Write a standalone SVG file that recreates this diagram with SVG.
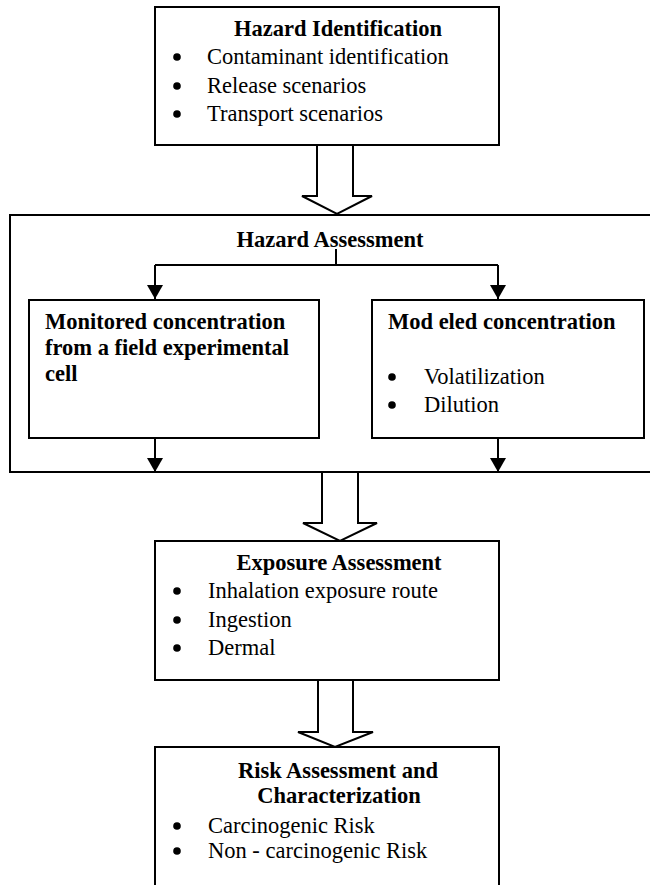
<svg xmlns="http://www.w3.org/2000/svg" width="650" height="885" viewBox="0 0 650 885">
<style>
.box{fill:#fff;stroke:#000;stroke-width:2}
.blk{fill:#fff;stroke:#000;stroke-width:2;stroke-linejoin:miter}
.ln{fill:none;stroke:#000;stroke-width:2}
.t{font-family:"Liberation Serif","Times New Roman",serif;font-size:22.5px;fill:#000}
.b{font-weight:bold}
.m{text-anchor:middle}
.dot{fill:#000}
</style>
<defs>
<marker id="ah" viewBox="0 0 14 16" refX="14" refY="8" markerWidth="14" markerHeight="16" markerUnits="userSpaceOnUse" orient="auto">
<path d="M0,0 L14,8 L0,16 Z" fill="#000"/>
</marker>
</defs>
<rect width="650" height="885" fill="#fff"/>

<g id="hazard-identification">
<rect class="box" x="155" y="7" width="344" height="138"/>
<text class="t b m" x="338" y="36">Hazard Identification</text>
<circle class="dot" cx="177" cy="57" r="3.8"/>
<text class="t" x="207" y="64">Contaminant identification</text>
<circle class="dot" cx="177" cy="86" r="3.8"/>
<text class="t" x="207" y="93">Release scenarios</text>
<circle class="dot" cx="177" cy="114" r="3.8"/>
<text class="t" x="207" y="121">Transport scenarios</text>
</g>

<g id="hazard-assessment">
<rect class="box" x="10" y="215" width="650" height="257"/>
<text class="t b m" x="330" y="247">Hazard Assessment</text>
</g>

<g id="monitored">
<rect class="box" x="29" y="300" width="290" height="138"/>
<text class="t b" x="45" y="329">Monitored concentration</text>
<text class="t b" x="45" y="355">from a field experimental</text>
<text class="t b" x="45" y="381">cell</text>
</g>

<g id="modeled">
<rect class="box" x="372" y="300" width="272" height="138"/>
<text class="t b" x="388" y="329">Mod eled concentration</text>
<circle class="dot" cx="392" cy="377" r="3.8"/>
<text class="t" x="424" y="384">Volatilization</text>
<circle class="dot" cx="392" cy="405" r="3.8"/>
<text class="t" x="424" y="412">Dilution</text>
</g>

<g id="exposure-assessment">
<rect class="box" x="155" y="541" width="344" height="139"/>
<text class="t b m" x="339" y="570">Exposure Assessment</text>
<circle class="dot" cx="177" cy="591" r="3.8"/>
<text class="t" x="208" y="598">Inhalation exposure route</text>
<circle class="dot" cx="177" cy="620" r="3.8"/>
<text class="t" x="208" y="627">Ingestion</text>
<circle class="dot" cx="177" cy="648" r="3.8"/>
<text class="t" x="208" y="655">Dermal</text>
</g>

<g id="risk-assessment">
<rect class="box" x="155" y="747" width="344" height="150"/>
<text class="t b m" x="338" y="778">Risk Assessment and</text>
<text class="t b m" x="339" y="803">Characterization</text>
<circle class="dot" cx="177" cy="826" r="3.8"/>
<text class="t" x="208" y="833">Carcinogenic Risk</text>
<circle class="dot" cx="177" cy="851" r="3.8"/>
<text class="t" x="208" y="858">Non - carcinogenic Risk</text>
</g>

<g id="connectors">
<path class="blk" d="M317,145 L353,145 L353,196 L372,196 L337,214 L302,196 L317,196 Z"/>
<path class="blk" d="M322,472 L358,472 L358,523 L377,523 L340,541 L303,523 L322,523 Z"/>
<path class="blk" d="M318,680 L353,680 L353,732 L373,732 L335,747 L298,732 L318,732 Z"/>
<path class="ln" d="M336,249 L336,265 M155,265 L498,265"/>
<path class="ln" d="M155,265 L155,299" marker-end="url(#ah)"/>
<path class="ln" d="M498,265 L498,299" marker-end="url(#ah)"/>
<path class="ln" d="M155,438 L155,472" marker-end="url(#ah)"/>
<path class="ln" d="M498,438 L498,472" marker-end="url(#ah)"/>
</g>
</svg>
